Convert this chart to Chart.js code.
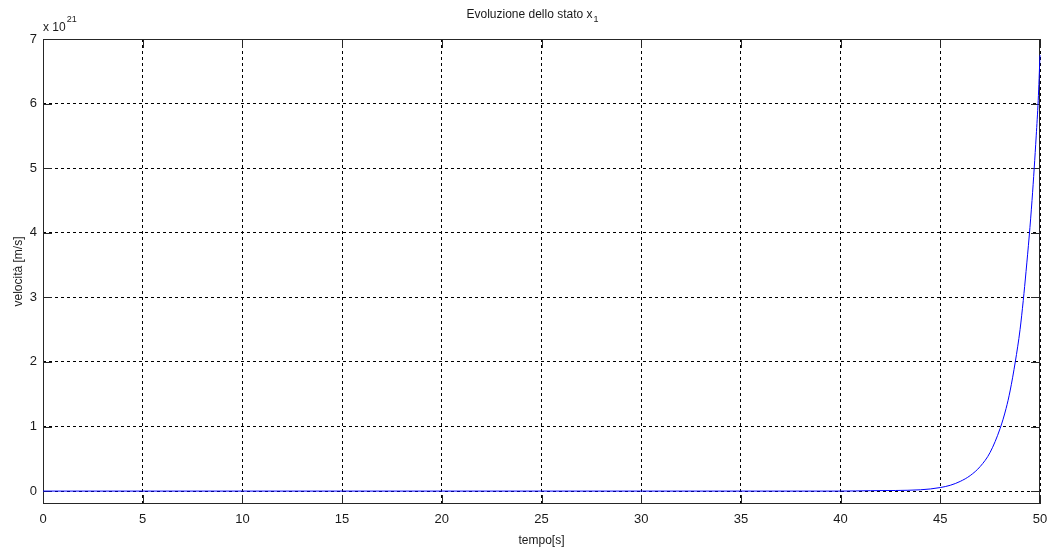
<!DOCTYPE html>
<html lang="it">
<head>
    <meta charset="UTF-8">
    <title>Evoluzione dello stato x1</title>
    <script src="https://cdn.jsdelivr.net/npm/chart.js"></script>
    <style>
        html, body { margin: 0; padding: 0; background: #fff; }
        #wrap { width: 1051px; height: 553px; }
    </style>
</head>
<body>
    <div id="wrap"><canvas id="statoChart" width="1051" height="553"></canvas></div>

    <script>
        // dati (velocità in unità di 1e21 m/s)
        const tempo    = [0, 10, 20, 30, 40, 41.5, 44, 45, 45.5, 46, 46.5, 47, 47.5, 48, 48.3, 48.5, 48.76, 49, 49.16, 49.3, 49.46, 49.6, 49.71, 49.81, 49.91, 50];
        const velocita = [0, 0, 0, 0, 0, 0.006, 0.02, 0.055, 0.09, 0.15, 0.24, 0.38, 0.6, 0.97, 1.28, 1.55, 2.0, 2.5, 2.95, 3.4, 3.95, 4.5, 5.0, 5.5, 6.05, 6.75];
        const xTicks = [0, 5, 10, 15, 20, 25, 30, 35, 40, 45, 50];
        const yTicks = [0, 1, 2, 3, 4, 5, 6, 7];

        const FONT = '"Liberation Sans", Arial, sans-serif';
        const TXT = '#1a1a1a';

        // riquadro e tacche interne, sotto la curva
        const matlabBox = {
            id: 'matlabBox',
            beforeDatasetsDraw(chart) {
                const ctx = chart.ctx;
                const a = chart.chartArea;
                const xs = chart.scales.x, ys = chart.scales.y;
                ctx.save();
                ctx.strokeStyle = '#262626';
                ctx.lineWidth = 1;
                ctx.setLineDash([]);
                ctx.strokeRect(a.left + 0.5, a.top + 0.5, a.right - a.left - 1, a.bottom - a.top - 1);

                ctx.beginPath();
                xTicks.forEach(v => {
                    const px = Math.round(xs.getPixelForValue(v)) + 0.5;
                    ctx.moveTo(px, a.bottom); ctx.lineTo(px, a.bottom - 9);
                    ctx.moveTo(px, a.top); ctx.lineTo(px, a.top + 9);
                });
                yTicks.forEach(v => {
                    const py = Math.round(ys.getPixelForValue(v)) + 0.5;
                    ctx.moveTo(a.left, py); ctx.lineTo(a.left + 9, py);
                    ctx.moveTo(a.right, py); ctx.lineTo(a.right - 9, py);
                });
                ctx.stroke();
                ctx.restore();
            }
        };

        // titolo, etichette assi ed esponente
        const matlabText = {
            id: 'matlabText',
            afterDraw(chart) {
                const ctx = chart.ctx;
                const a = chart.chartArea;
                ctx.save();
                ctx.fillStyle = TXT;
                ctx.textBaseline = 'alphabetic';

                // titolo con pedice
                ctx.font = '12px ' + FONT;
                const t1 = 'Evoluzione dello stato x';
                const w1 = ctx.measureText(t1).width;
                ctx.font = '9px ' + FONT;
                const w2 = ctx.measureText('1').width;
                const tx = 532 - (w1 + w2) / 2;
                ctx.font = '12px ' + FONT;
                ctx.textAlign = 'left';
                ctx.fillText(t1, tx, 18);
                ctx.font = '9px ' + FONT;
                ctx.fillText('1', tx + w1 + 1, 22);

                // esponente
                ctx.font = '12px ' + FONT;
                ctx.fillText('x 10', a.left, 31);
                const we = ctx.measureText('x 10').width;
                ctx.font = '9px ' + FONT;
                ctx.fillText('21', a.left + we + 1, 22);

                // etichetta asse x
                ctx.font = '12px ' + FONT;
                ctx.textAlign = 'center';
                ctx.fillText('tempo[s]', (a.left + a.right) / 2, 544);

                // etichetta asse y
                ctx.translate(22, (a.top + a.bottom) / 2);
                ctx.rotate(-Math.PI / 2);
                ctx.fillText('velocità [m/s]', 0, 0);

                ctx.restore();
            }
        };

        const ctx = document.getElementById('statoChart').getContext('2d');
        new Chart(ctx, {
            type: 'line',
            data: {
                datasets: [{
                    label: 'x1',
                    data: tempo.map((t, i) => ({ x: t, y: velocita[i] })),
                    borderColor: 'rgb(0, 0, 255)',
                    borderWidth: 1,
                    pointRadius: 0,
                    fill: false,
                    clip: 2,
                    cubicInterpolationMode: 'monotone'
                }]
            },
            options: {
                responsive: false,
                animation: false,
                layout: { padding: { top: 39, right: 11, left: 0, bottom: 0 } },
                plugins: {
                    legend: { display: false },
                    tooltip: { enabled: false }
                },
                scales: {
                    x: {
                        type: 'linear',
                        min: 0,
                        max: 50,
                        afterBuildTicks: s => { s.ticks = xTicks.map(v => ({ value: v })); },
                        afterFit: s => { s.height = 49; s.paddingLeft = 0; s.paddingRight = 0; },
                        border: { display: false, dash: [3, 3] },
                        grid: { color: '#000', drawTicks: false },
                        ticks: { color: TXT, padding: 8, font: { family: FONT, size: 13 }, maxRotation: 0 }
                    },
                    y: {
                        type: 'linear',
                        min: -0.2,
                        max: 7,
                        afterBuildTicks: s => { s.ticks = yTicks.map(v => ({ value: v })); },
                        afterFit: s => { s.width = 43; s.paddingTop = 0; s.paddingBottom = 0; },
                        border: { display: false, dash: [3, 3] },
                        grid: { color: '#000', drawTicks: false },
                        ticks: { color: TXT, padding: 6, font: { family: FONT, size: 13 } }
                    }
                }
            },
            plugins: [matlabBox, matlabText]
        });
    </script>
</body>
</html>
